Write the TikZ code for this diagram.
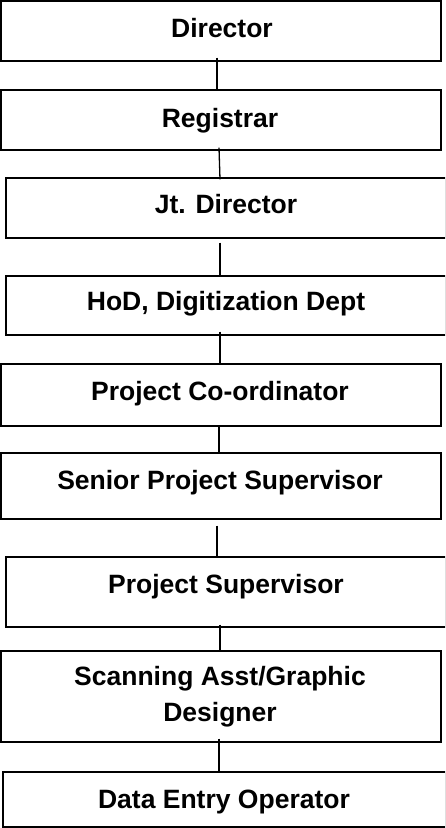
\documentclass[tikz,border=0pt]{standalone}
\usepackage{fontspec}
\setmainfont{Liberation Sans}
\begin{document}
\begin{tikzpicture}[x=1pt,y=-1pt,
  box/.style={draw=black,line width=1.3pt,rectangle,inner sep=0pt},
  lbl/.style={font=\fontsize{26.5}{36}\selectfont\bfseries,inner sep=0pt,anchor=base,align=center},
  conn/.style={draw=black,line width=1.3pt}]
\useasboundingbox (0,0) rectangle (445,828);
\clip (0,0) rectangle (445,828);
% boxes
\node[box,minimum width=440pt,minimum height=60pt] (dir) at (221,31) {};
\node[box,minimum width=440pt,minimum height=60pt] (reg) at (221,120) {};
\node[box,minimum width=440pt,minimum height=60pt] (jt) at (226,208) {};
\node[box,minimum width=440pt,minimum height=59pt] (hod) at (226,305.5) {};
\node[box,minimum width=440pt,minimum height=62pt] (pc) at (221,395) {};
\node[box,minimum width=440pt,minimum height=66pt] (sps) at (221,486) {};
\node[box,minimum width=440pt,minimum height=70pt] (ps) at (226,592) {};
\node[box,minimum width=440pt,minimum height=91pt] (scan) at (221,696.5) {};
\node[box,minimum width=443pt,minimum height=55pt] (de) at (224.5,799.5) {};
% labels
\node[lbl] (tdir) at (222,37) {Director};
\node[lbl] (treg) at (220,127) {Registrar};
\node[lbl] (tjt) at (226,213) {Jt. Director};
\node[lbl] (thod) at (226,310) {HoD, Digitization Dept};
\node[lbl] (tpc) at (220,400) {Project Co-ordinator};
\node[lbl] (tsps) at (220,489) {Senior Project Supervisor};
\node[lbl] (tps) at (226,593) {Project Supervisor};
\node[lbl] (tscan) at (220,721) {Scanning Asst/Graphic\\Designer};
\node[lbl] (tde) at (224,808) {Data Entry Operator};
% connectors
\draw[conn] ([yshift=4pt]dir.south -| 217,0) -- (reg.north -| 217,0);
\draw[conn] ([yshift=3pt]reg.south -| 219,0) -- ([yshift=-2pt]jt.north -| 220,0);
\draw[conn] ([yshift=-4pt]jt.south -| 220,0) -- (hod.north -| 220,0);
\draw[conn] ([yshift=4pt]hod.south -| 220,0) -- (pc.north -| 220,0);
\draw[conn] (pc.south -| 219,0) -- (sps.north -| 219,0);
\draw[conn] ([yshift=-6pt]sps.south -| 217,0) -- (ps.north -| 217,0);
\draw[conn] ([yshift=3pt]ps.south -| 220,0) -- ([yshift=-2pt]scan.north -| 220,0);
\draw[conn] ([yshift=4pt]scan.south -| 219,0) -- (de.north -| 219,0);
\end{tikzpicture}
\end{document}
